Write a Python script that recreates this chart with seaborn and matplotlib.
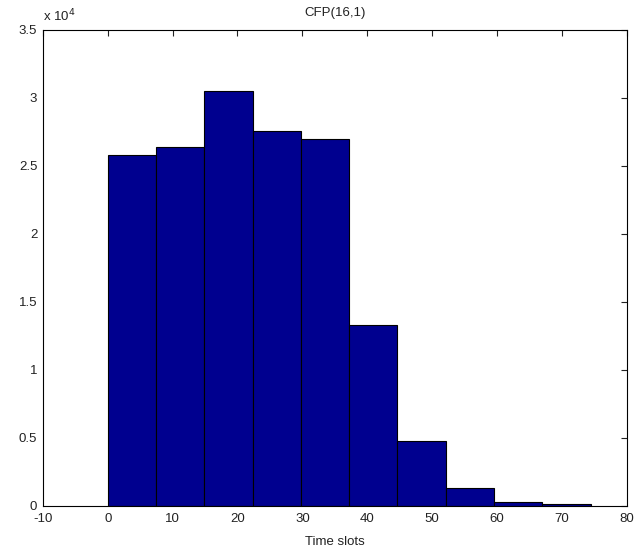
import numpy as np
import pandas as pd
import matplotlib
matplotlib.use("Agg")
import matplotlib.pyplot as plt
import seaborn as sns
from matplotlib.ticker import FuncFormatter

# Data
bin_centers = [3.72, 11.16, 18.6, 26.04, 33.48, 40.92, 48.36, 55.8, 63.24, 70.68]
counts = [25800, 26400, 30500, 27600, 27000, 13300, 4800, 1300, 300, 150]
bin_width = 7.44
x_ticks = [-10, 0, 10, 20, 30, 40, 50, 60, 70, 80]
y_ticks = [0, 5000, 10000, 15000, 20000, 25000, 30000, 35000]
title = "CFP(16,1)"
xlabel = "Time slots"

sns.set_style("white")
plt.rcParams['font.family'] = ['Liberation Sans', 'DejaVu Sans']
plt.rcParams['axes.unicode_minus'] = False

df = pd.DataFrame({"slot": bin_centers, "count": counts})

fig = plt.figure(figsize=(6.39, 5.54), dpi=100)
ax = fig.add_axes([0.067, 0.087, 0.914, 0.859])

edges = (np.arange(len(counts) + 1) * bin_width).tolist()
sns.histplot(data=df, x="slot", weights="count", bins=edges, ax=ax,
             color="#00008F", edgecolor="black", linewidth=0.8, alpha=1.0)

ax.set_xlim(-10, 80)
ax.set_ylim(0, 35000)
ax.set_xticks(x_ticks)
ax.set_yticks(y_ticks)
ax.yaxis.set_major_formatter(FuncFormatter(lambda v, p: "%g" % (v / 1e4)))
ax.tick_params(direction="in", length=4, width=0.8, top=True, right=True,
               labelsize=9.5, colors="#222222")
ax.tick_params(axis="x", pad=5)
ax.tick_params(axis="y", pad=4)
for s in ax.spines.values():
    s.set_visible(True)
    s.set_color("black")
    s.set_linewidth(0.8)
ax.set_ylabel("")
ax.set_xlabel(xlabel, fontsize=9.5, labelpad=8, color="#222222")
ax.set_title(title, fontsize=9.5, pad=10, color="#222222")
ax.text(0.0, 1.012, r"x 10$^{4}$", transform=ax.transAxes, fontsize=9.5,
        ha="left", va="bottom", color="#222222")

fig.savefig("out.png", dpi=100)
